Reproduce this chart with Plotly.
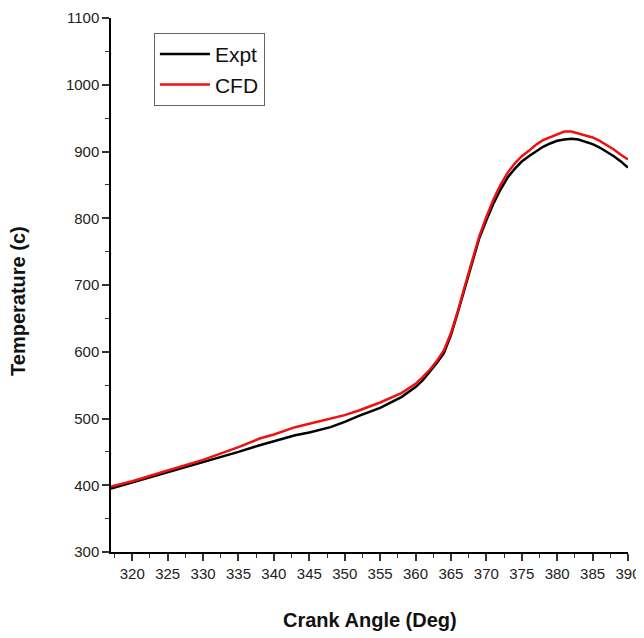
import plotly.graph_objects as go

crank_angle = [317, 320, 325, 330, 335, 338, 340, 343, 345, 348, 350, 352, 355, 358, 360,
               361, 362, 363, 364, 365, 366, 367, 368, 369, 370, 371, 372, 373, 374, 375,
               376, 377, 378, 379, 380, 381, 382, 383, 384, 385, 386, 387, 388, 389, 390]
expt = [395, 404, 419, 434, 450, 460, 466, 475, 479, 487, 495, 504, 516, 532, 547,
        557, 570, 583, 598, 625, 660, 698, 735, 770, 797, 822, 843, 861, 874, 885,
        893, 900, 907, 912, 916, 918, 919, 918, 915, 911, 906, 900, 893, 885, 876]
cfd = [398, 406, 422, 438, 457, 470, 476, 487, 492, 500, 505, 512, 524, 538, 552,
       562, 573, 586, 602, 628, 662, 700, 738, 773, 802, 828, 850, 868, 882, 893,
       901, 910, 917, 921, 926, 930, 930, 927, 924, 921, 916, 910, 903, 895, 888]

x_ticks = list(range(320, 391, 5))
y_ticks = list(range(300, 1101, 100))

FONT = "Liberation Sans Narrow, Liberation Sans, Arial, sans-serif"

fig = go.Figure()
fig.add_trace(go.Scatter(x=crank_angle, y=expt, mode="lines", name="Expt",
                         line=dict(color="black", width=2.5)))
fig.add_trace(go.Scatter(x=crank_angle, y=cfd, mode="lines", name="CFD",
                         line=dict(color="#ee1111", width=2.5)))

axis_common = dict(
    showline=True, linecolor="black", linewidth=1.5, mirror=False,
    showgrid=False, zeroline=False, automargin=False,
    ticklabeloverflow="allow",
    ticks="outside", ticklen=7, tickwidth=1.5, tickcolor="#333",
    tickfont=dict(family=FONT, size=15, color="#222"),
)

fig.update_xaxes(range=[317, 390], tickvals=x_ticks,
                 minor=dict(ticks="outside", ticklen=4, tickwidth=1.2, tickcolor="#333", dtick=2.5, tick0=317.5),
                 **axis_common)
fig.update_yaxes(range=[300, 1100], tickvals=y_ticks,
                 minor=dict(ticks="outside", ticklen=4, tickwidth=1.2, tickcolor="#333", dtick=50, tick0=300),
                 **axis_common)

fig.update_layout(
    width=636, height=630,
    margin=dict(l=103, r=16, t=10, b=86, autoexpand=False),
    paper_bgcolor="white", plot_bgcolor="white",
    showlegend=True,
    legend=dict(x=0.083, y=0.972, xanchor="left", yanchor="top",
                bordercolor="#666", borderwidth=1, bgcolor="white",
                font=dict(family=FONT, size=21, color="#111"),
                itemwidth=50, tracegroupgap=4),
    annotations=[
        dict(text="<b>Crank Angle (Deg)</b>", xref="paper", yref="paper",
             x=0.5, y=-0.127, xanchor="center", yanchor="middle", showarrow=False,
             font=dict(family=FONT, size=20, color="#111")),
        dict(text="<b>Temperature (c)</b>", xref="paper", yref="paper",
             x=-0.18, y=0.47, xanchor="center", yanchor="middle", showarrow=False,
             textangle=-90, font=dict(family=FONT, size=20, color="#111")),
    ],
)

fig.write_html("out.html")
